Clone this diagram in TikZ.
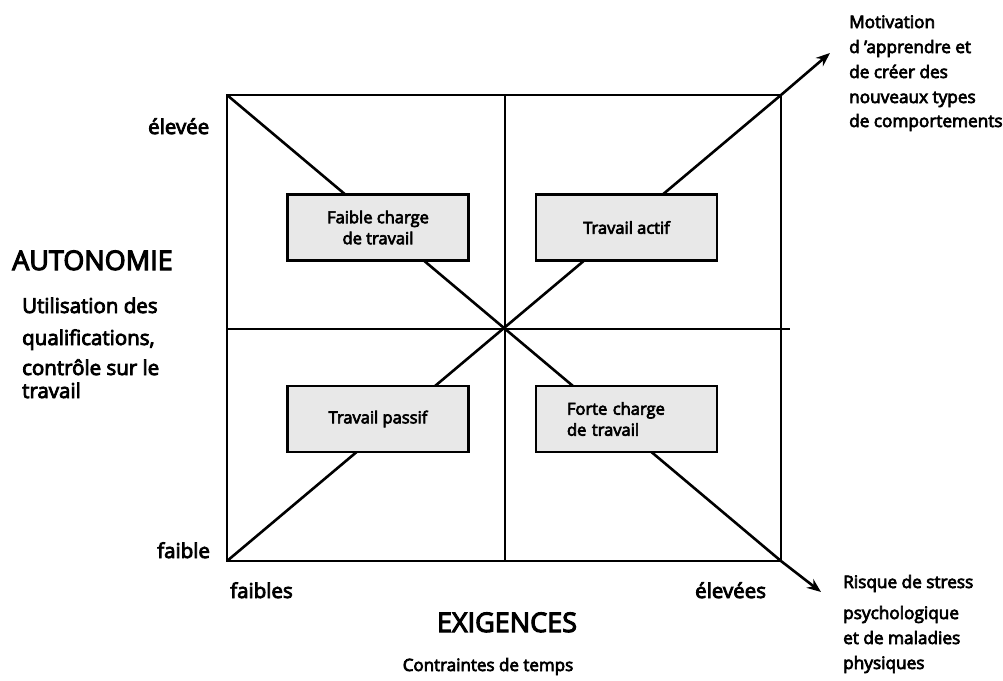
\documentclass[tikz,border=0pt]{standalone}
\usepackage{fontspec}
\setmainfont{Open Sans}[FakeBold=4]
\usetikzlibrary{arrows.meta}
\begin{document}
\begin{tikzpicture}[x=1pt,y=-1pt,
  axis/.style={line width=2.8pt, line cap=rect},
  diag/.style={line width=2.6pt},
  arrowdiag/.style={line width=2.6pt, -{Stealth[length=14pt,width=11pt]}},
  quad/.style={draw=black, line width=2.6pt, fill=black!9, minimum width=181pt,
    minimum height=66pt, inner sep=0pt, font=\fontsize{16.5}{21}\selectfont, align=center},
  lab/.style={anchor=base west, inner sep=0pt, font=\fontsize{20.5}{24}\selectfont},
  side/.style={anchor=base west, inner sep=0pt, font=\fontsize{17.2}{20}\selectfont},
  title/.style={anchor=base, inner sep=0pt, font=\fontsize{27}{30}\selectfont}
]
\useasboundingbox (0,0) rectangle (1003,680);

% frame corners, centre and arrow ends
\coordinate (tl) at (227,95);
\coordinate (tr) at (781,95);
\coordinate (bl) at (227,561);
\coordinate (br) at (781,561);
\coordinate (tm) at (505,95);
\coordinate (bm) at (505,561);
\coordinate (ml) at (227,329);
\coordinate (mr) at (789,329);
\coordinate (upend) at (830,53);
\coordinate (downend) at (821,592);

% diagonals with the two outcome arrows
\draw[diag] (tl) -- (br);
\draw[diag] (bl) -- (tr);
\draw[arrowdiag] (tr) -- (upend);
\draw[arrowdiag] (br) -- (downend);

% frame and quadrant axes
\draw[axis] (tl) rectangle (br);
\draw[axis] (tm) -- (bm);
\draw[axis] (ml) -- (mr);

% quadrant boxes
\node[quad] (faible) at (378,227.5) {Faible charge\\de travail};
\node[quad] (actif) at (626.5,227.5) {Travail actif};
\node[quad] (passif) at (378,419) {Travail passif};
\node[quad, align=left, text width=119pt] (forte) at (626.5,419) {Forte charge\\de travail};

% vertical axis labels
\node[lab] (eleveeY) at (148,134) {élevée};
\node[title, anchor=base west] (auto) at (12,270) {AUTONOMIE};
\node[lab] (util1) at (22,313) {Utilisation des};
\node[lab] (util2) at (22,345) {qualifications,};
\node[lab] (util3) at (22,375) {contrôle sur le};
\node[lab] (util4) at (22,398) {travail};
\node[lab] (faibleY) at (157,558) {faible};

% horizontal axis labels
\node[lab] (faiblesX) at (230,598) {faibles};
\node[lab] (eleveesX) at (695,598) {élevées};
\node[title] (exig) at (507,632) {EXIGENCES};
\node[anchor=base, inner sep=0pt, font=\fontsize{17}{20}\selectfont] (contr) at (488,671) {Contraintes de temps};

% outcome notes
\node[side] (m1) at (849,28) {Motivation};
\node[side] (m2) at (849,53) {d 'apprendre et};
\node[side] (m3) at (849,78) {de créer des};
\node[side] (m4) at (849,103) {nouveaux types};
\node[side] (m5) at (849,127) {de comportements};

\node[side] (r1) at (843,588) {Risque de stress};
\node[side] (r2) at (843,619) {psychologique};
\node[side] (r3) at (843,644) {et de maladies};
\node[side] (r4) at (843,669) {physiques};
\end{tikzpicture}
\end{document}
